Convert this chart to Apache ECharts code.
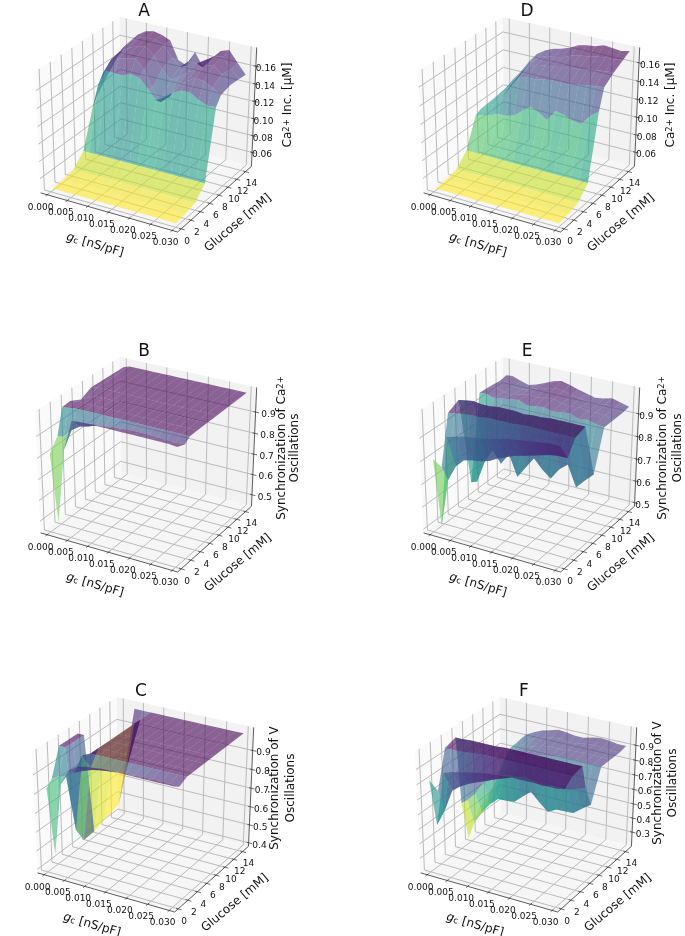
<!DOCTYPE html>
<html><head><meta charset="utf-8">
<style>html,body{margin:0;padding:0;background:#fff}#c{width:685px;height:936px;filter:blur(.35px)}</style>
<script src="https://cdn.jsdelivr.net/npm/echarts@6/dist/echarts.min.js"></script>
</head><body><div id="c"></div>
<script>
const gcValues=[.0005,.002,.004,.006,.008,.01,.012,.014,.016,.018,.02,.022,.024,.026,.028,.03];
const gcTicks=[0,.005,.01,.015,.02,.025,.03];
const glucoseTicks=[0,2,4,6,8,10,12,14];
const ticksCa=[.06,.08,.10,.12,.14,.16];
const ticksB=[.5,.6,.7,.8,.9];
const ticksC=[.4,.5,.6,.7,.8,.9];
const ticksF=[.3,.4,.5,.6,.7,.8,.9];

const glucoseA=[0,2,4,6,8,9,11,13,14.4];
const surfaceA=[
[.048,.048,.048,.048,.048,.048,.048,.048,.048,.048,.048,.048,.048,.048,.048,.048],
[.049,.049,.049,.049,.049,.049,.049,.049,.049,.049,.049,.049,.049,.049,.049,.049],
[.052,.052,.052,.052,.052,.052,.052,.052,.052,.052,.052,.052,.052,.052,.052,.052],
[.065,.065,.065,.065,.065,.065,.065,.065,.065,.065,.065,.065,.065,.065,.065,.065],
[.107,.135,.154,.153,.153,.157,.155,.145,.134,.14,.147,.152,.152,.146,.142,.143],
[.118,.145,.162,.166,.168,.170,.160,.142,.128,.136,.150,.158,.164,.163,.158,.152],
[.132,.152,.165,.170,.174,.176,.168,.155,.145,.150,.158,.163,.170,.172,.165,.155],
[.145,.158,.168,.174,.176,.176,.172,.160,.152,.160,.160,.166,.172,.174,.162,.154],
[.151,.160,.170,.176,.178,.176,.172,.152,.148,.165,.150,.162,.173,.176,.164,.153]];

const glucoseD=[0,2,4,6,8,9,11,13,14.4];
const surfaceD=[
[.048,.048,.048,.048,.048,.048,.048,.048,.048,.048,.048,.048,.048,.048,.048,.048],
[.049,.049,.049,.049,.049,.049,.049,.049,.049,.049,.049,.049,.049,.049,.049,.049],
[.052,.052,.052,.052,.052,.052,.052,.052,.052,.052,.052,.052,.052,.052,.052,.052],
[.065,.065,.065,.065,.065,.065,.065,.065,.065,.065,.065,.065,.065,.065,.065,.065],
[.097,.099,.101,.105,.105,.108,.115,.122,.118,.112,.124,.122,.118,.117,.128,.135],
[.100,.105,.110,.120,.135,.145,.148,.148,.150,.151,.151,.151,.153,.155,.156,.157],
[.101,.108,.115,.126,.140,.150,.154,.155,.156,.158,.159,.160,.162,.163,.164,.165],
[.102,.110,.119,.131,.144,.152,.156,.157,.159,.163,.165,.166,.168,.169,.169,.171],
[.103,.114,.125,.138,.149,.155,.159,.161,.164,.169,.171,.172,.175,.174,.173,.175]];

const glucoseB=[0,1.5,2.5,4,6,8,14.4];
const surfaceB=[
[.818,.50,.855,.995,1,1,1,1,1,1,1,1,1,1,1,.995],
[.875,.88,.92,.945,.955,.97,.975,.98,.982,.985,.985,.985,.982,.98,.98,.98],
[.99,.995,1,1,1,1,1,1,1,1,1,1,1,1,1,1],
[.995,1,1,1,1,1,1,1,1,1,1,1,1,1,1,1],
[.97,.985,1,1,1,1,1,1,1,1,1,1,1,1,1,1],
[.995,1,1,1,1,1,1,1,1,1,1,1,1,1,1,1],
[.99,1,1,1,1,1,1,1,1,1,1,1,1,1,1,1]];
const toneB=[[1,0,.55],[1,1,.58],[1,2,.62],[1,3,.64],[1,4,.66],[1,5,.68],[1,6,.70],[1,7,.72],[1,8,.74],[1,9,.76],[1,10,.78],[1,11,.80],[1,12,.82],[1,13,.84],[1,14,.86]];

const glucoseC=[0,1,2.5,4,6,8,11,14.4];
const surfaceC=[
[.83,.49,.87,.95,.98,.99,.995,1,1,1,1,1,1,1,1,1],
[.86,.88,.89,.92,.94,.955,.965,.97,.975,.98,.98,.985,.985,.985,.985,.98],
[1,1,.58,.98,1,1,1,1,1,1,1,1,1,1,1,1],
[1,1,.495,.89,1,1,1,1,1,1,1,1,1,1,1,1],
[1,1,.50,.85,1,1,1,1,1,1,1,1,1,1,1,1],
[null,null,.52,.80,1,1,1,1,1,1,1,1,1,1,1,1],
[null,null,.547,.75,1,1,1,1,1,1,1,1,1,1,1,1],
[null,null,1,1,1,1,1,1,1,1,1,1,1,1,1,1]];
const toneC=[[2,1,.72],[3,1,.72],[3,3,.03],[4,3,.03],[5,3,.03],[6,2,.9],
[1,0,.55],[1,1,.58],[1,2,.62],[1,3,.66],[1,4,.70],[1,5,.72],[1,6,.74],[1,7,.76],[1,8,.78],[1,9,.80],[1,10,.82],[1,11,.84],[1,12,.86],[1,13,.88],[1,14,.90]];

const glucoseE=[0,1.5,3,5,7,9,11,13,14.4];
const surfaceE=[
[.81,.523,.92,.93,.94,.945,.95,.955,.965,.975,.98,.985,.99,.995,1,.998],
[.75,.70,.77,.806,.815,.82,.83,.85,.865,.88,.89,.90,.91,.92,.925,.926],
[.96,.965,.97,.975,.975,.98,.98,.98,.98,.985,.985,.985,.985,.985,.985,.985],
[.985,.99,.995,.99,.99,.995,.995,.995,.99,.995,.995,1,1,1,1,1],
[.59,.60,.70,.76,.71,.76,.67,.72,.77,.73,.70,.75,.78,.69,.73,.765],
[.957,.96,.95,.955,.96,.965,.95,.955,.96,.95,.955,.96,.945,.95,.94,.935],
[.955,.955,.945,.94,.95,.96,.955,.965,.965,.955,.95,.955,.945,.95,.945,.935],
[.95,.955,.94,.935,.945,.958,.965,.975,.97,.96,.955,.945,.945,.955,.945,.935],
[.955,.958,.945,.935,.945,.96,.975,.985,.975,.964,.955,.945,.95,.96,.95,.94]];

const glucoseF=[0,1.5,3,5,5.8,7,9,11,13,14.4];
const surfaceF=[
[.83,.54,.90,.92,.93,.945,.955,.965,.97,.975,.98,.98,.98,.98,.98,.98],
[.72,.60,.75,.79,.82,.845,.866,.89,.91,.93,.945,.95,.95,.945,.94,.94],
[.967,.97,.97,.975,.98,.985,.985,.985,.985,.985,.985,.985,.985,.985,.985,.985],
[.99,.99,.995,.995,.995,.995,1,1,1,1,1,1,1,1,1,1],
[.53,.56,.62,.71,.76,.78,.80,.80,.82,.80,.78,.80,.80,.80,.82,.84],
[.25,.37,.46,.53,.58,.585,.59,.64,.686,.63,.58,.61,.612,.615,.66,.70],
[.40,.45,.55,.66,.76,.83,.85,.87,.88,.89,.90,.90,.90,.90,.90,.90],
[.45,.52,.62,.72,.80,.85,.87,.885,.89,.89,.895,.90,.905,.90,.90,.90],
[.52,.62,.70,.78,.83,.865,.88,.895,.90,.89,.892,.905,.91,.905,.90,.90],
[.61,.71,.77,.83,.86,.885,.90,.915,.91,.90,.90,.915,.924,.92,.91,.91]];

const caLabel='Ca{sup|2+} Inc. [μM]';
const syncCa=['Synchronization of Ca{sup|2+}','Oscillations'];
const syncV=['Synchronization of V','Oscillations'];

const panels=[
{t:'A',dx:0,dy:0,z:[.0432,.1808],ticks:ticksCa,f:v=>v.toFixed(2),g:glucoseA,s:surfaceA,lab:[caLabel],lx:[288],ly:105,off:20},
{t:'B',dx:0,dy:340,z:[.442,1.014],ticks:ticksB,f:v=>v.toFixed(1),g:glucoseB,s:surfaceB,lab:syncCa,lx:[282,295],ly:108,off:20,vmin:.71,tone:toneB},
{t:'C',dx:-3,dy:680,z:[.38,1.019],ticks:ticksC,f:v=>v.toFixed(1),g:glucoseC,s:surfaceC,lab:syncV,lx:[278,294],ly:108,off:18,tone:toneC},
{t:'D',dx:383,dy:0,z:[.0435,.1765],ticks:ticksCa,f:v=>v.toFixed(2),g:glucoseD,s:surfaceD,lab:[caLabel],lx:[288],ly:105,off:21},
{t:'E',dx:383,dy:340,z:[.483,1.013],ticks:ticksB,f:v=>v.toFixed(1),g:glucoseE,s:surfaceE,lab:syncCa,lx:[280,295],ly:108,off:15,vmin:.612},
{t:'F',dx:380,dy:680,z:[.198,1.018],ticks:ticksF,f:v=>v.toFixed(1),g:glucoseF,s:surfaceF,lab:syncV,lx:[278,293],ly:103,off:18}
];
const xLim=[-.00164,.03126], yLim=[-.72,15.4];
const viridis=[[68,1,84],[72,36,117],[65,68,135],[53,95,141],[42,120,142],[33,145,140],[34,168,132],[68,191,112],[122,209,81],[189,223,38],[253,231,37]];
function viridisR(r){r=Math.max(0,Math.min(1,1-r))*10;const i=Math.min(9,Math.floor(r)),t=r-i,a=viridis[i],b=viridis[i+1];
  return [0,1,2].map(k=>Math.round(a[k]+(b[k]-a[k])*t));}

// matplotlib mplot3d camera (elev 30, azim -60, dist 10)
const el=30*Math.PI/180,az=-60*Math.PI/180;
const n=[Math.cos(el)*Math.cos(az),Math.cos(el)*Math.sin(az),Math.sin(el)];
const u=[-Math.sin(az),Math.cos(az),0];
const v=[n[1]*u[2]-n[2]*u[1],n[2]*u[0]-n[0]*u[2],n[0]*u[1]-n[1]*u[0]];
const dot=(a,b)=>a[0]*b[0]+a[1]*b[1]+a[2]*b[2];
function camera(X,Y,Z){const p=[X-.5,Y-.5,Z-.5],d=10-dot(n,p);return [dot(u,p)/d,dot(v,p)/d,d];}
const sx=221.7/(camera(1,1,1)[0]-camera(0,0,1)[0]), sy=215/(camera(0,1,1)[1]-camera(1,0,0)[1]);
const ox=35-sx*camera(0,0,1)[0], oy=232+sy*camera(1,0,0)[1];
function screen(pn,X,Y,Z){const c=camera(X,Y,Z);return [ox+sx*c[0]+pn.dx, oy-sy*c[1]+pn.dy];}
const nx=x=>(x-xLim[0])/(xLim[1]-xLim[0]), ny=y=>(y-yLim[0])/(yLim[1]-yLim[0]);
const nz=(pn,z)=>(z-pn.z[0])/(pn.z[1]-pn.z[0]);

function line(a,b,col,w){return {type:'line',shape:{x1:a[0],y1:a[1],x2:b[0],y2:b[1]},style:{stroke:col,lineWidth:w,fill:null},silent:true};}
function text(s,x,y,font,rot,align,rich){return {type:'text',x:x,y:y,rotation:rot||0,style:{text:s,x:0,y:0,fill:'#111',font:font,align:align||'center',verticalAlign:'middle',rich:rich},silent:true};}
const FF='"DejaVu Sans"';
function renderBox(params,api){
  const pn=panels[api.value(0)],P=(a,b,c)=>screen(pn,a,b,c),ch=[];
  const poly=(pts,col)=>ch.push({type:'polygon',shape:{points:pts},style:{fill:col},silent:true});
  poly([P(0,0,0),P(0,1,0),P(0,1,1),P(0,0,1)],'#fafafa');
  poly([P(0,1,0),P(1,1,0),P(1,1,1),P(0,1,1)],'#f2f2f2');
  poly([P(0,0,0),P(1,0,0),P(1,1,0),P(0,1,0)],'#f6f6f6');
  const G='#bbbbbb',W=1;
  gcTicks.forEach(t=>{const a=nx(t);ch.push(line(P(a,0,0),P(a,1,0),G,W),line(P(a,1,0),P(a,1,1),G,W));});
  glucoseTicks.forEach(t=>{const b=ny(t);ch.push(line(P(1,b,0),P(0,b,0),G,W),line(P(0,b,0),P(0,b,1),G,W));});
  pn.ticks.forEach(t=>{const c=nz(pn,t);ch.push(line(P(0,0,c),P(0,1,c),G,W),line(P(0,1,c),P(1,1,c),G,W));});
  const K='#333';
  ch.push(line(P(0,0,0),P(1,0,0),K,.8),line(P(1,0,0),P(1,1,0),K,.8),line(P(1,1,0),P(1,1,1),K,.8));
  const tf='9px '+FF;
  gcTicks.forEach(t=>{const a=nx(t),p=P(a,0,0),q=P(a,-.02,0),r=P(a,.015,0);ch.push(line(r,q,K,.7));
    ch.push(text(t.toFixed(3),p[0]-6.5,p[1]+12.5,tf));});
  glucoseTicks.forEach(t=>{const b=ny(t),p=P(1,b,0),q=P(1.025,b,0),r=P(.985,b,0);ch.push(line(r,q,K,.7));
    ch.push(text(String(t),p[0]+6,p[1]+12.5,tf));});
  pn.ticks.forEach(t=>{const c=nz(pn,t),p=P(1,1,c),q=P(1.025,1,c),r=P(.985,1,c);ch.push(line(r,q,K,.7));
    ch.push(text(pn.f(t),p[0]+pn.off,p[1]+2.5,tf,0,'right'));});
  const lf='12px '+FF;
  const sub={sub:{fontSize:8.5,fontFamily:'DejaVu Sans',verticalAlign:'bottom',fill:'#111'},it:{fontSize:12,fontFamily:'DejaVu Sans',fontStyle:'italic',fill:'#111'}};
  const sup={sup:{fontSize:8.5,fontFamily:'DejaVu Sans',verticalAlign:'top',fill:'#111'}};
  ch.push(text('{it|g}{sub|c} [nS/pF]',95+pn.dx,245+pn.dy,lf,-16*Math.PI/180,'center',sub));
  ch.push(text('Glucose [mM]',238+pn.dx,223+pn.dy,lf,40*Math.PI/180));
  pn.lab.forEach((s,i)=>ch.push(text(s,pn.lx[i]+pn.dx,pn.ly+pn.dy,lf,Math.PI/2,'center',sup)));
  ch.push(text(pn.t,144+pn.dx,12+pn.dy,'17px '+FF));
  return {type:'group',children:ch};
}
function cellsFor(pn){
  const cells=[],G=pn.g,S=pn.s;
  for(let r=0;r<G.length-1;r++)for(let c=0;c<gcValues.length-1;c++){
    const zz=[S[r][c],S[r][c+1],S[r+1][c+1],S[r+1][c]];
    if(zz.some(q=>q==null))continue;
    const xs=[gcValues[c],gcValues[c+1],gcValues[c+1],gcValues[c]],ys=[G[r],G[r],G[r+1],G[r+1]];
    let d=0;for(let k=0;k<4;k++)d+=camera(nx(xs[k]),ny(ys[k]),nz(pn,zz[k]))[2];
    const tone=(pn.tone||[]).find(q=>q[0]===r&&q[1]===c);
    cells.push({xs,ys,zz,avg:(zz[0]+zz[1]+zz[2]+zz[3])/4,d:d/4,tone:tone?tone[2]:null});
  }
  cells.sort((a,b)=>b.d-a.d);
  const lo=pn.vmin!=null?pn.vmin:Math.min(...cells.map(q=>q.avg)),hi=Math.max(...cells.map(q=>q.avg));
  return cells.map(q=>[...q.xs,...q.ys,...q.zz,q.tone!=null?q.tone:(q.avg-lo)/(hi-lo)]);
}
const series=[];
panels.forEach((pn,i)=>{
  series.push({type:'custom',coordinateSystem:'none',silent:true,animation:false,clip:false,z:1,data:[[i]],renderItem:renderBox});
  series.push({type:'custom',coordinateSystem:'none',silent:true,animation:false,clip:false,z:2,data:cellsFor(pn),
    renderItem:(params,api)=>{
      const pts=[];for(let k=0;k<4;k++)pts.push(screen(pn,nx(api.value(k)),ny(api.value(4+k)),nz(pn,api.value(8+k))));
      const c=viridisR(api.value(12));
      return {type:'polygon',shape:{points:pts},style:{fill:`rgba(${c[0]},${c[1]},${c[2]},0.6)`},silent:true};
    }});
});
const chart=echarts.init(document.getElementById('c'),null,{renderer:'canvas',width:685,height:936});
chart.setOption({animation:false,backgroundColor:'#fff',series});
</script></body></html>
